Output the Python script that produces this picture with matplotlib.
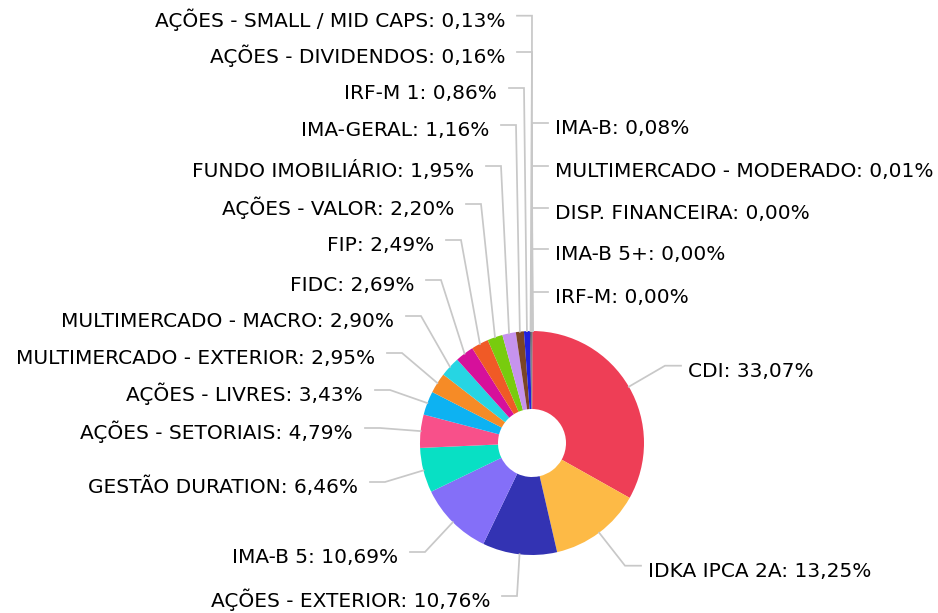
import numpy as np
import matplotlib
matplotlib.use("Agg")
import matplotlib.pyplot as plt

# ---- data (clockwise from the top) ----
categories = [
    "IMA-B", "MULTIMERCADO - MODERADO", "DISP. FINANCEIRA", "IMA-B 5+", "IRF-M",
    "CDI", "IDKA IPCA 2A", "AÇÕES - EXTERIOR", "IMA-B 5", "GESTÃO DURATION",
    "AÇÕES - SETORIAIS", "AÇÕES - LIVRES", "MULTIMERCADO - EXTERIOR",
    "MULTIMERCADO - MACRO", "FIDC", "FIP", "AÇÕES - VALOR", "FUNDO IMOBILIÁRIO",
    "IMA-GERAL", "IRF-M 1", "AÇÕES - DIVIDENDOS", "AÇÕES - SMALL / MID CAPS",
]
values = [
    0.08, 0.01, 0.00, 0.00, 0.00,
    33.07, 13.25, 10.76, 10.69, 6.46,
    4.79, 3.43, 2.95,
    2.90, 2.69, 2.49, 2.20, 1.95,
    1.16, 0.86, 0.16, 0.13,
]

# ---- style ----
colors = [
    "#444455", "#555566", "#666677", "#777788", "#888899",
    "#EE3E56", "#FDBA46", "#3333B3", "#846FF8", "#08E0C4",
    "#F8508A", "#0DB2F2", "#F68B26",
    "#26D5E3", "#D6109B", "#F05A26", "#78CC0E", "#C693EE",
    "#7B4526", "#2020DD", "#555577", "#666666",
]

# label layout in pixel coordinates: side, connector y, connector bend x
layout = {
    "IMA-B": ("R", 123, 532),
    "MULTIMERCADO - MODERADO": ("R", 166, 532),
    "DISP. FINANCEIRA": ("R", 208, 532),
    "IMA-B 5+": ("R", 249, 532),
    "IRF-M": ("R", 292, 532),
    "CDI": ("R", 365.7, 665),
    "IDKA IPCA 2A": ("R", 565.7, 625),
    "AÇÕES - EXTERIOR": ("L", 596, 517),
    "IMA-B 5": ("L", 552, 425),
    "GESTÃO DURATION": ("L", 482, 385),
    "AÇÕES - SETORIAIS": ("L", 428, 380),
    "AÇÕES - LIVRES": ("L", 390, 390),
    "MULTIMERCADO - EXTERIOR": ("L", 353, 402),
    "MULTIMERCADO - MACRO": ("L", 316, 421),
    "FIDC": ("L", 280, 441),
    "FIP": ("L", 240, 461),
    "AÇÕES - VALOR": ("L", 204, 481),
    "FUNDO IMOBILIÁRIO": ("L", 166, 501),
    "IMA-GERAL": ("L", 125, 516),
    "IRF-M 1": ("L", 88, 524),
    "AÇÕES - DIVIDENDOS": ("L", 52, 532),
    "AÇÕES - SMALL / MID CAPS": ("L", 15.7, 532),
}

W, H = 938, 613
fig = plt.figure(figsize=(W / 100, H / 100), dpi=100)
ax = fig.add_axes([0, 0, 1, 1])

cx, cy_px, R, hole = 532, 443, 112, 34
cy = H - cy_px

ax.pie(values, colors=colors, startangle=90, counterclock=False,
       center=(cx, cy), radius=R,
       wedgeprops=dict(width=R - hole, linewidth=0))

ax.set_xlim(0, W)
ax.set_ylim(0, H)
ax.set_aspect("equal")
ax.axis("off")

vals = np.array(values, dtype=float)
total = vals.sum()
cum = np.cumsum(vals) - vals
line_color = "#c8c8c8"
fs = 14.5
for name, v, c0 in zip(categories, vals, cum):
    frac = (c0 + v / 2) / total
    theta = np.deg2rad(90 - 360 * frac)
    ax_x = cx + R * np.cos(theta)
    ax_y = cy + R * np.sin(theta)
    side, ly, bx = layout[name]
    ly_d = H - ly
    num = f"{v:.2f}".replace(".", ",")
    txt = f"{name}: {num}%"
    if side == "L":
        xs = [bx - 15, bx, ax_x]
        tx, ha = bx - 27, "right"
    else:
        xs = [bx + 16, bx, ax_x]
        tx, ha = bx + 23, "left"
    ys = [ly_d, ly_d, ax_y]
    ax.plot(xs, ys, color=line_color, lw=1.25, solid_joinstyle="miter", zorder=1)
    ax.text(tx, H - (ly + 11), txt, ha=ha, va="baseline", fontsize=fs,
            color="#000000", family="DejaVu Sans")

fig.savefig("out.png", dpi=100)
